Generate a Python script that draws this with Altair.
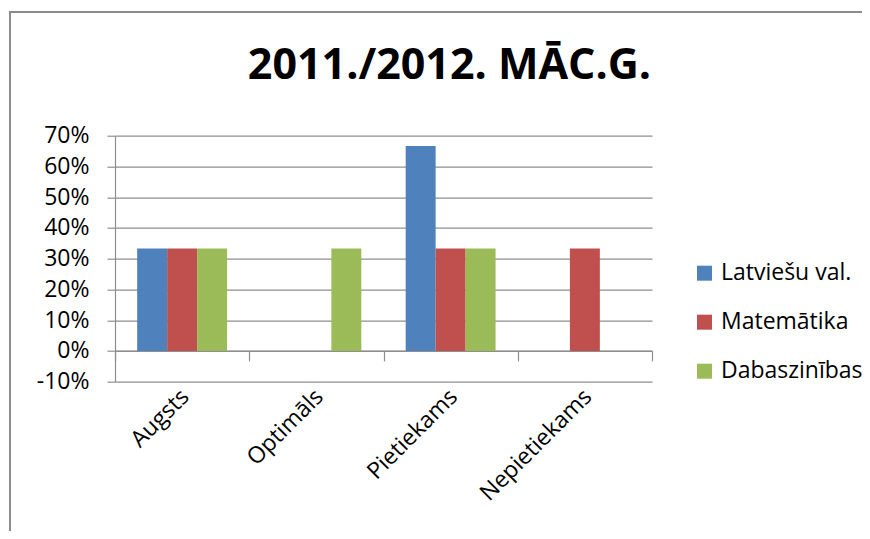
import altair as alt
import pandas as pd

categories = ["Augsts", "Optimāls", "Pietiekams", "Nepietiekams"]
series = ["Latviešu val.", "Matemātika", "Dabaszinības"]
latviesu = [0.3333, 0.0, 0.6667, 0.0]
matematika = [0.3333, 0.0, 0.3333, 0.3333]
dabaszinibas = [0.3333, 0.3333, 0.3333, 0.0]
colors = ["#4F81BD", "#C0504D", "#9BBB59"]
y_ticks = [-0.1, 0.0, 0.1, 0.2, 0.3, 0.4, 0.5, 0.6, 0.7]

rows = []
for s, vals in zip(series, [latviesu, matematika, dabaszinibas]):
    for c, v in zip(categories, vals):
        rows.append({"Kategorija": c, "Priekšmets": s, "Vērtība": v})
df = pd.DataFrame(rows)

FONT = "Open Sans"
GRID = "#8e8e8e"

frame = alt.Chart(alt.Data(values=[{"f": 1}])).mark_rect(
    fillOpacity=0, stroke="#8c8c8c", strokeWidth=2
).encode(
    x=alt.value(-105), x2=alt.value(800), y=alt.value(-123.7), y2=alt.value(420)
)

bars = alt.Chart(df).mark_bar().encode(
    x=alt.X(
        "Kategorija:N",
        sort=categories,
        scale=alt.Scale(paddingInner=0, paddingOuter=0),
        axis=alt.Axis(
            title=None, orient="bottom", offset=-30.75, tickBand="extent",
            ticks=True, tickSize=10, tickColor=GRID, tickWidth=1.2,
            domain=True, domainColor=GRID, domainWidth=1.2,
            labelAngle=-45, labelPadding=24, labelOffset=-5,
            labelFontSize=23, labelFont=FONT,
            labelColor="#000", grid=False,
        ),
    ),
    xOffset=alt.XOffset(
        "Priekšmets:N", sort=series,
        scale=alt.Scale(paddingInner=0, paddingOuter=0.74),
    ),
    y=alt.Y(
        "Vērtība:Q",
        stack=None,
        scale=alt.Scale(domain=[-0.1, 0.7], nice=False),
        axis=alt.Axis(
            title=None, values=y_ticks, format=".0%", grid=True,
            labelExpr="replace(datum.label, '\u2212', '-')",
            gridColor=GRID, gridWidth=1.2, tickSize=8, tickColor=GRID,
            tickWidth=1.2, domainColor=GRID, domainWidth=1.2,
            labelPadding=18, labelFontSize=23, labelFont=FONT,
            labelColor="#000",
        ),
    ),
    color=alt.Color(
        "Priekšmets:N",
        sort=series,
        scale=alt.Scale(domain=series, range=colors),
        legend=alt.Legend(
            title=None, orient="none", legendX=578, legendY=126,
            symbolType="square", symbolSize=225, symbolStrokeWidth=0,
            labelFontSize=23, labelFont=FONT, labelColor="#000",
            rowPadding=25, labelOffset=5, padding=0,
        ),
    ),
)

chart = alt.layer(frame, bars).properties(
    width=537,
    height=246,
    padding={"left": 107, "top": 127.7, "right": 210, "bottom": 149},
    autosize=alt.AutoSizeParams(type="none"),
    title=alt.Title(
        "2011./2012. MĀC.G.", font=FONT, fontSize=43, fontWeight="bold",
        color="#000", anchor="middle", dx=66, offset=-77,
    ),
).configure_view(stroke=None)

chart.save("out.html", embed_options={"renderer": "svg", "actions": False})
